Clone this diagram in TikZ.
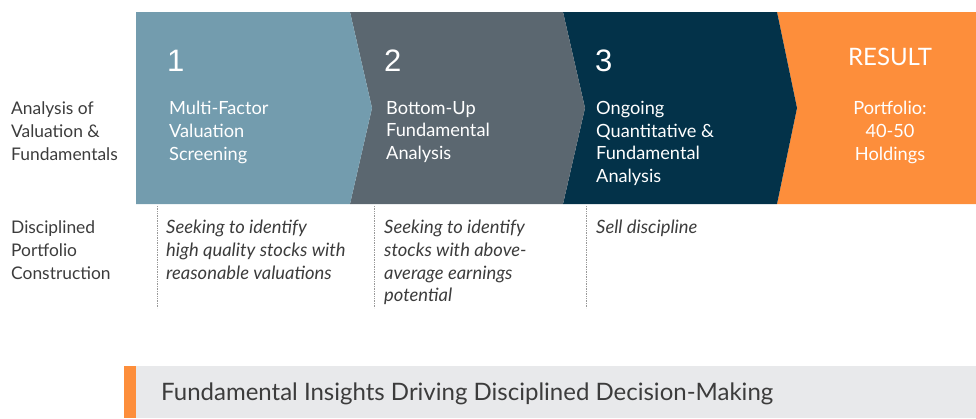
\documentclass[tikz,border=0pt]{standalone}
\usepackage{fontspec}
\setmainfont{Lato}
\newfontfamily\numfont{Liberation Sans}
\usetikzlibrary{positioning}

\definecolor{stepone}{HTML}{739CAE}
\definecolor{steptwo}{HTML}{5B6770}
\definecolor{stepthree}{HTML}{033249}
\definecolor{resultorange}{HTML}{FD8E3B}
\definecolor{txtgray}{HTML}{3C3C3C}
\definecolor{bargray}{HTML}{E8E9EB}

\begin{document}
\begin{tikzpicture}[x=1pt,y=-1pt,
  rowlabel/.style={anchor=north west,inner sep=0pt,align=left,text=txtgray,font=\fontsize{17.4}{23}\selectfont},
  steptext/.style={anchor=north west,inner sep=0pt,align=left,text=white,font=\fontsize{18.2}{22.7}\selectfont},
  stepnum/.style={anchor=base west,inner sep=0pt,text=white,font=\numfont\fontsize{31}{31}\selectfont},
  note/.style={anchor=north west,inner sep=0pt,align=left,text=txtgray,font=\itshape\fontsize{18.4}{22.7}\selectfont},
  sep/.style={gray!80,densely dotted,line width=0.7pt}]

\useasboundingbox (0,0) rectangle (976,418);

% the four chevrons
\fill[resultorange] (777,12) -- (976,12) -- (976,204) -- (777,204) -- (797,108) -- cycle;
\fill[stepthree] (563,12) -- (777,12) -- (797,108) -- (777,204) -- (563,204) -- (585,108) -- cycle;
\fill[steptwo] (350,12) -- (563,12) -- (585,108) -- (563,204) -- (350,204) -- (372,108) -- cycle;
\fill[stepone] (136,12) -- (350,12) -- (372,108) -- (350,204) -- (136,204) -- cycle;

% row labels
\node[rowlabel] (analysis) at (11,101) {Analysis of\\Valuation \&\\Fundamentals};
\node[rowlabel] (disciplined) at (11,220) {Disciplined\\Portfolio\\Construction};

% steps
\node[stepnum] (n1) at (167,71) {1};
\node[steptext] (s1) at (169,101) {Multi-Factor\\Valuation\\Screening};
\node[stepnum] (n2) at (384,71) {2};
\node[steptext] (s2) at (386,101) {Bottom-Up\\Fundamental\\Analysis};
\node[stepnum] (n3) at (595,71) {3};
\node[steptext] (s3) at (596,101) {Ongoing\\Quantitative \&\\Fundamental\\Analysis};
\node[anchor=base,inner sep=0pt,text=white,font=\fontsize{24}{24}\selectfont] (result) at (890,65) {RESULT};
\node[steptext,anchor=north,align=center] (holdings) at (890,101) {Portfolio:\\40-50\\Holdings};

% notes under the steps
\draw[sep] (157,206) -- (157,308);
\draw[sep] (374,206) -- (374,308);
\draw[sep] (586,206) -- (586,308);
\node[note] (c1) at (166,220) {Seeking to identify\\high quality stocks with\\reasonable valuations};
\node[note] (c2) at (384,220) {Seeking to identify\\stocks with above-\\average earnings\\potential};
\node[note] (c3) at (596,220) {Sell discipline};

% bottom bar
\fill[bargray] (136,366) rectangle (976,418);
\fill[resultorange] (124,366) rectangle (136,418);
\node[anchor=west,inner sep=0pt,text=txtgray,font=\fontsize{24}{24}\selectfont] (motto) at (161,394) {Fundamental Insights Driving Disciplined Decision-Making};

\end{tikzpicture}
\end{document}
